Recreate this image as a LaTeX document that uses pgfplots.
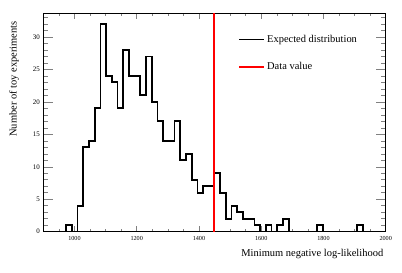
\documentclass[border=0pt]{standalone}
\usepackage{fontspec}
\setmainfont{Liberation Serif}
\usepackage{pgfplots}
\usepackage{pgfplotstable}
\pgfplotsset{compat=1.18}
\pgfplotstableread{
x y
900 0
918.33 0
936.67 0
955 0
973.33 1
991.67 0
1010 4
1028.33 13
1046.67 14
1065 19
1083.33 32
1101.67 24
1120 23
1138.33 19
1156.67 28
1175 24
1193.33 24
1211.67 21
1230 27
1248.33 20
1266.67 17
1285 14
1303.33 14
1321.67 17
1340 11
1358.33 12
1376.67 8
1395 6
1413.33 7
1431.67 7
1450 9
1468.33 6
1486.67 2
1505 4
1523.33 3
1541.67 2
1560 2
1578.33 1
1596.67 0
1615 1
1633.33 0
1651.67 1
1670 2
1688.33 0
1706.67 0
1725 0
1743.33 0
1761.67 0
1780 1
1798.33 0
1816.67 0
1835 0
1853.33 0
1871.67 0
1890 0
1908.33 1
1926.67 0
1945 0
1963.33 0
1981.67 0
2000 0
}\histdata
\begin{document}
\begin{tikzpicture}
\useasboundingbox (-43.3bp,-41.3bp) rectangle (358.7bp,231.7bp);
\begin{axis}[
  at={(0,0)}, anchor=south west,
  scale only axis,
  width=342.4bp, height=218.2bp,
  xmin=900, xmax=2000, ymin=0, ymax=33.6,
  xtick={1000,1200,...,2000},
  minor xtick={900,950,...,2000},
  ytick={0,5,...,30},
  minor ytick={0,1,...,33},
  tick align=inside,
  xtick pos=both, ytick pos=both,
  xtick style={/pgfplots/major tick length=6bp,/pgfplots/minor tick length=3bp, line width=0.5bp},
  ytick style={/pgfplots/major tick length=10bp,/pgfplots/minor tick length=5bp, line width=0.5bp},
  axis line style={line width=0.7bp},
  /pgf/number format/assume math mode=true,
  /pgf/number format/1000 sep={},
  xticklabel style={font=\fontsize{6.2}{7}\selectfont, yshift=-1.5bp},
  yticklabel style={font=\fontsize{7}{8}\selectfont},
  xlabel={Minimum negative log-likelihood},
  ylabel={Number of toy experiments},
  xlabel style={font=\fontsize{10.5}{12}\selectfont, at={(axis description cs:1.003,-0.102)}, anchor=east},
  ylabel style={font=\fontsize{10.5}{12}\selectfont, at={(axis description cs:-0.0856,0.98)}, anchor=east},
  legend style={at={(axis description cs:0.5695,0.9115)}, anchor=north west, draw=none, fill=none,
    font=\fontsize{10.5}{12}\selectfont, row sep=15bp, inner sep=0pt},
  legend cell align=left,
  legend image code/.code={\draw[#1] (0bp,0bp) -- (25bp,0bp);},
]
\addplot[const plot mark left, black, line width=1.7bp] table[x=x,y=y] {\histdata};
\addlegendentry{Expected distribution}
\addplot[red, line width=1.6bp] coordinates {(1448,0) (1448,33.6)};
\addlegendentry{Data value}
\end{axis}
\end{tikzpicture}
\end{document}
